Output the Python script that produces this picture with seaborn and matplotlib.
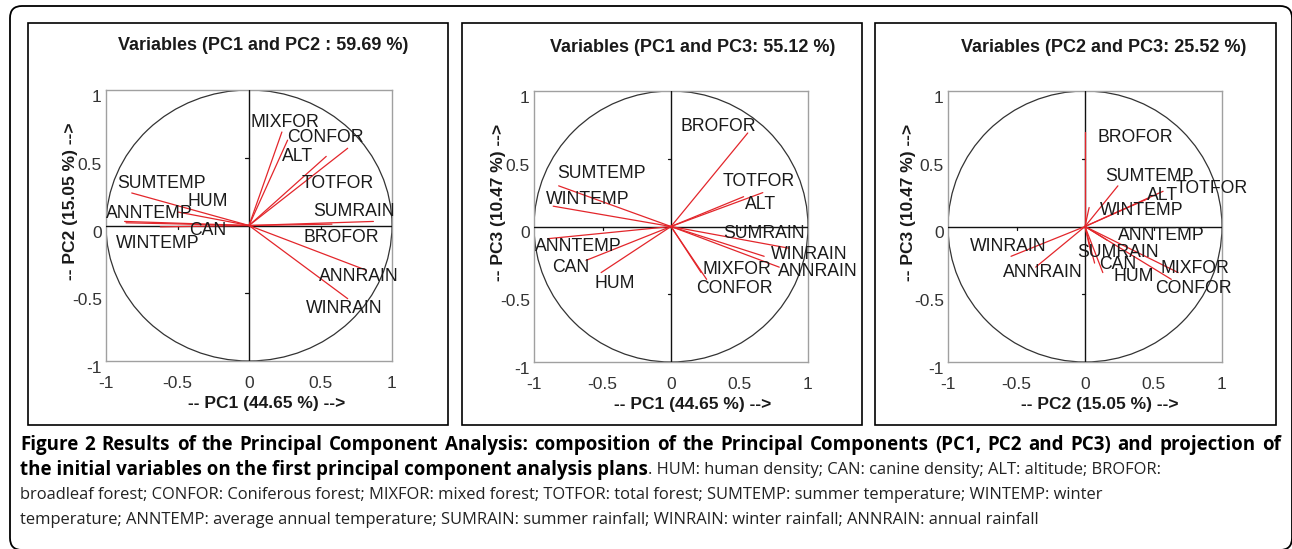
"""
PCA correlation circles (PC1/PC2, PC1/PC3, PC2/PC3) with the figure caption.
Saves out.png.
"""
import matplotlib
matplotlib.use("Agg")
import matplotlib.pyplot as plt
import numpy as np
import pandas as pd
import seaborn as sns
from matplotlib.patches import Ellipse, Rectangle, FancyBboxPatch

VARIABLES = ["HUM", "CAN", "ALT", "BROFOR", "CONFOR", "MIXFOR", "TOTFOR",
             "SUMTEMP", "WINTEMP", "ANNTEMP", "SUMRAIN", "WINRAIN", "ANNRAIN"]

# loadings
P1_X = [-0.50, -0.62, 0.54, 0.58, 0.27, 0.23, 0.69, -0.82, -0.86, -0.87, 0.87, 0.69, 0.82]
P1_Y = [0.10, -0.01, 0.51, 0.01, 0.63, 0.69, 0.57, 0.24, 0.02, 0.03, 0.03, -0.54, -0.33]
P2_X = [-0.51, -0.62, 0.53, 0.56, 0.26, 0.22, 0.67, -0.82, -0.86, -0.90, 0.86, 0.68, 0.79]
P2_Y = [-0.34, -0.25, 0.22, 0.69, -0.39, -0.34, 0.25, 0.30, 0.15, -0.09, -0.16, -0.22, -0.30]
P3_X = [0.13, 0.07, 0.47, 0.00, 0.63, 0.68, 0.57, 0.24, 0.03, 0.16, 0.04, -0.54, -0.36]
P3_Y = [-0.34, -0.27, 0.21, 0.70, -0.39, -0.34, 0.26, 0.30, 0.14, -0.10, -0.18, -0.22, -0.30]

TITLES = ["Variables (PC1 and PC2 : 59.69 %)",
          "Variables (PC1 and PC3: 55.12 %)",
          "Variables (PC2 and PC3: 25.52 %)"]
XLABELS = ["-- PC1 (44.65 %) -->", "-- PC1 (44.65 %) -->", "-- PC2 (15.05 %) -->"]
YLABELS = ["-- PC2 (15.05 %) -->", "-- PC3 (10.47 %) -->", "-- PC3 (10.47 %) -->"]
TICKS = [-1, -0.5, 0, 0.5, 1]
TICK_LABELS = ["-1", "-0.5", "0", "0.5", "1"]

# label offsets from the arrow tips (data units), same order as VARIABLES
OFF1 = [(0.07, 0.08), (0.20, -0.03), (-0.31, 0.00), (-0.20, -0.10), (0.00, 0.02),
        (-0.22, 0.07), (-0.32, -0.26), (-0.10, 0.07), (-0.07, -0.15), (-0.13, 0.06),
        (-0.42, 0.07), (-0.29, -0.07), (-0.33, -0.05)]
OFF2 = [(-0.05, -0.08), (-0.25, -0.05), (0.01, -0.06), (-0.49, 0.05), (-0.08, -0.07),
        (0.01, 0.02), (-0.29, 0.08), (-0.01, 0.09), (-0.05, 0.05), (-0.09, -0.06),
        (-0.48, 0.11), (0.05, 0.01), (-0.01, -0.03)]
OFF3 = [(0.08, -0.03), (0.03, -0.01), (-0.02, 0.02), (0.09, -0.04), (-0.12, -0.07),
        (-0.13, 0.03), (0.09, 0.02), (-0.09, 0.07), (0.08, -0.02), (0.08, 0.03),
        (-0.10, -0.01), (-0.30, 0.07), (-0.24, -0.04)]

CAPTION_BOLD_1 = ("Figure 2 Results of the Principal Component Analysis: composition of the "
                  "Principal Components (PC1, PC2 and PC3) and projection of")
CAPTION_BOLD_2 = "the initial variables on the first principal component analysis plans"
CAPTION_REG_2 = ". HUM: human density; CAN: canine density; ALT: altitude; BROFOR:"
CAPTION_REG_3 = ("broadleaf forest; CONFOR: Coniferous forest; MIXFOR: mixed forest; "
                 "TOTFOR: total forest; SUMTEMP: summer temperature; WINTEMP: winter")
CAPTION_REG_4 = ("temperature; ANNTEMP: average annual temperature; SUMRAIN: summer rainfall; "
                 "WINRAIN: winter rainfall; ANNRAIN: annual rainfall")

RED = "#e3262b"
W, H = 1292, 549

sns.set_theme(style="white")
plt.rcParams["font.family"] = ["Liberation Sans", "DejaVu Sans"]

fig = plt.figure(figsize=(W / 100, H / 100), dpi=100)


def px_axes(left, right, top, bottom):
    return fig.add_axes([left / W, 1 - bottom / H, (right - left) / W, (bottom - top) / H])


PANELS = [
    dict(box=(106, 392, 90, 361), frame=(28, 448), x=P1_X, y=P1_Y, off=OFF1,
         title_x=0.55, title_y=1.166, xl=(0.56, -0.129), yl=(-0.098, 0.59)),
    dict(box=(534, 808, 91, 362), frame=(462, 862), x=P2_X, y=P2_Y, off=OFF2,
         title_x=0.58, title_y=1.162, xl=(0.58, -0.129), yl=(-0.103, 0.587)),
    dict(box=(948, 1222, 91, 362), frame=(875, 1276), x=P3_X, y=P3_Y, off=OFF3,
         title_x=0.57, title_y=1.162, xl=(0.555, -0.129), yl=(-0.115, 0.587)),
]

for i, p in enumerate(PANELS):
    ax = px_axes(*p["box"])

    # segments origin -> tip, one unit per variable
    seg = pd.DataFrame({
        "var": np.repeat(VARIABLES, 2),
        "x": np.ravel([[0.0, v] for v in p["x"]]),
        "y": np.ravel([[0.0, v] for v in p["y"]]),
    })
    sns.lineplot(data=seg, x="x", y="y", units="var", estimator=None, sort=False,
                 color=RED, linewidth=0.9, ax=ax, legend=False, zorder=4)

    ax.add_patch(Ellipse((0, 0), 2, 2, fill=False, edgecolor="#333333", linewidth=0.9, zorder=2))
    ax.axhline(0, color="#111111", linewidth=1.0, zorder=3)
    ax.axvline(0, color="#111111", linewidth=1.0, zorder=3)
    for t in (-0.5, 0.5):
        ax.plot([t, t], [0, -0.025], color="#111111", linewidth=0.9, zorder=3)
        ax.plot([0, -0.025], [t, t], color="#111111", linewidth=0.9, zorder=3)

    for name, vx, vy, (dx, dy) in zip(VARIABLES, p["x"], p["y"], p["off"]):
        ax.text(vx + dx, vy + dy, name, ha="left", va="center", fontsize=12.7,
                color="#1a1a1a", zorder=5)

    ax.set_xlim(-1, 1)
    ax.set_ylim(-1, 1)
    ax.set_xticks(TICKS)
    ax.set_xticklabels(TICK_LABELS)
    ax.set_yticks(TICKS)
    ax.set_yticklabels(TICK_LABELS)
    ax.tick_params(axis="x", length=0, pad=10.5, labelsize=12.5, labelcolor="#333333")
    ax.tick_params(axis="y", length=0, pad=3, labelsize=12.5, labelcolor="#333333")
    for lab in ax.get_yticklabels():
        lab.set_verticalalignment("top")
    for s in ax.spines.values():
        s.set_color("#a0a0a0")
        s.set_linewidth(1.0)

    ax.set_xlabel(XLABELS[i], fontsize=12.5, fontweight="bold", color="#1a1a1a")
    ax.set_ylabel(YLABELS[i], fontsize=12.5, fontweight="bold", color="#1a1a1a")
    ax.xaxis.set_label_coords(*p["xl"])
    ax.yaxis.set_label_coords(*p["yl"])
    ax.text(p["title_x"], p["title_y"], TITLES[i], transform=ax.transAxes,
            ha="center", va="center", fontsize=13, fontweight="bold", color="#1a1a1a")

    # black frame around each panel
    l, r = p["frame"]
    fig.add_artist(Rectangle((l, H - 425), r - l, 425 - 23, transform=None,
                             fill=False, edgecolor="black", linewidth=1.2))

# rounded outer border
fig.add_artist(FancyBboxPatch((10, -1), W - 10, H - 5, transform=None,
                              boxstyle="round,pad=0,rounding_size=12",
                              fill=False, edgecolor="black", linewidth=1.3))

# caption, sizes fitted to the measured line widths
CAP_FONT = ["Open Sans", "DejaVu Sans"]
renderer = fig.canvas.get_renderer()


def cap_text(x, y, s, size, weight="normal", color="#222222"):
    return fig.text(x / W, 1 - y / H, s, ha="left", va="baseline", fontsize=size,
                    fontweight=weight, family=CAP_FONT, color=color)


def fit(t, x0, right):
    w = t.get_window_extent(renderer).width
    t.set_fontsize(t.get_fontsize() * (right - x0) / w)
    return t.get_fontsize()


# line 2: bold part sets the bold size, regular part follows it
t2 = cap_text(20, 474.5, CAPTION_BOLD_2, 12, "bold", "black")
bold_size = fit(t2, 20, 645)
t3 = cap_text(20, 499, CAPTION_REG_3, 12)
reg_size = fit(t3, 20, 1104)
x_end = t2.get_window_extent(renderer).x1
cap_text(x_end, 474.5, CAPTION_REG_2, reg_size)
cap_text(20, 523.5, CAPTION_REG_4, reg_size)

# line 1 is justified across the full width
words = CAPTION_BOLD_1.split(" ")
pieces = [cap_text(0, 450, w_, bold_size, "bold", "black") for w_ in words]
widths = [pc.get_window_extent(renderer).width for pc in pieces]
gap = (1281 - 20 - sum(widths)) / (len(words) - 1)
x = 20.0
for pc, wd in zip(pieces, widths):
    pc.set_x(x / W)
    x += wd + gap

fig.savefig("out.png", dpi=100)
plt.close(fig)
